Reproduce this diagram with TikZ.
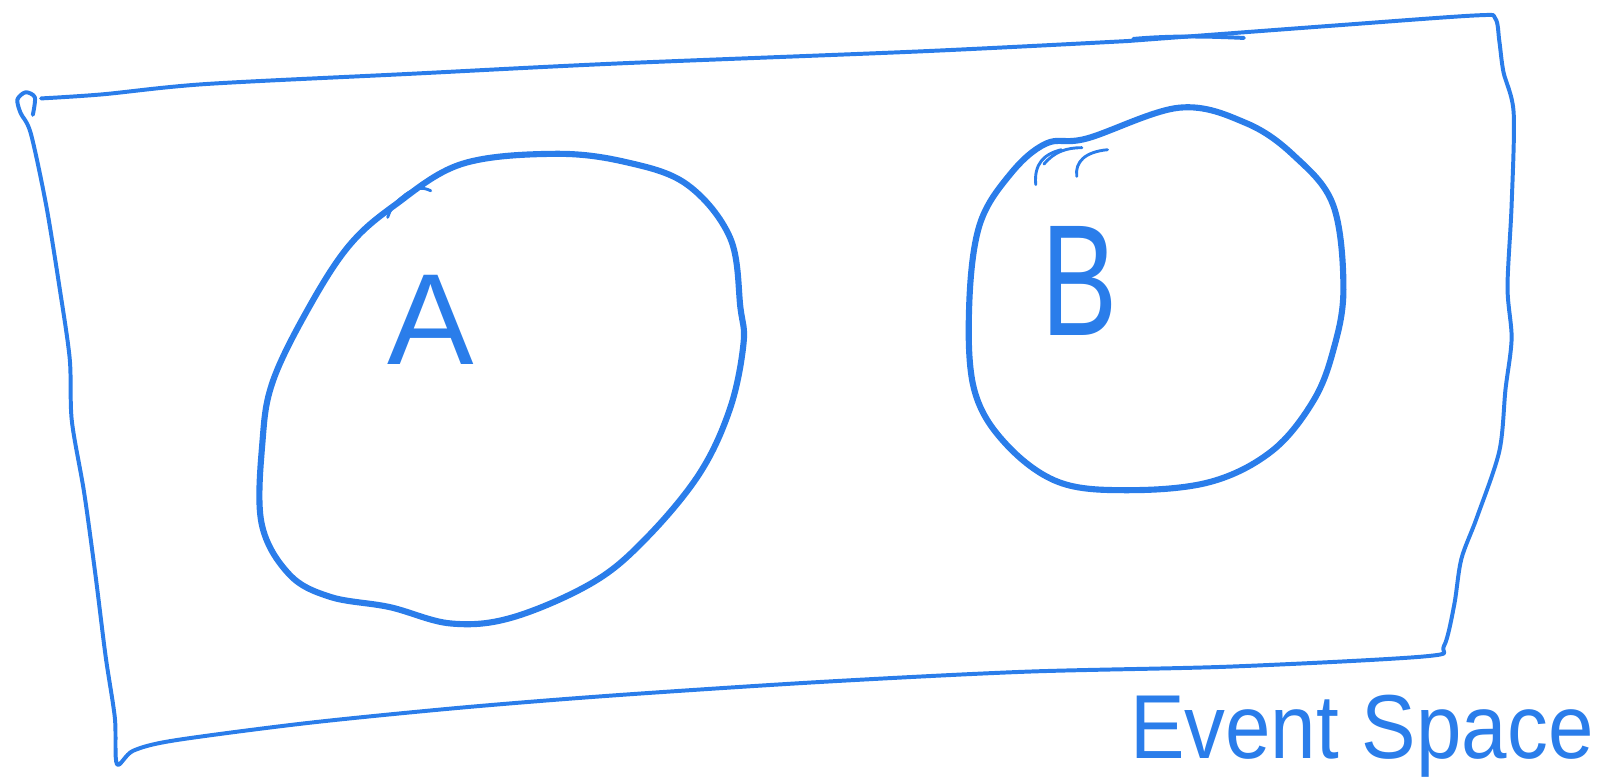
\documentclass[tikz,border=0pt]{standalone}
\usepackage{fontspec}
\setmainfont{Liberation Sans}
\definecolor{ink}{HTML}{2A7DEA}
\begin{document}
\begin{tikzpicture}[x=0.02cm,y=-0.02cm,
  frame/.style={draw=ink,line width=2.2pt,line cap=round,line join=round},
  blob/.style={draw=ink,line width=3.4pt,line cap=round,line join=round},
  tick/.style={draw=ink,line width=1.6pt,line cap=round},
  hand/.style={text=ink,inner sep=0pt}]
\useasboundingbox (0,0) rectangle (1568,759);
% event space frame
\draw[frame] plot[smooth,tension=0.5] coordinates{
 (32,112) (34,95) (25,90) (17,97) (20,110) (30,130) (45,200) (58,280) (68,350) (70,410)
 (82,480) (93,560) (103,640) (112,700) (114,745) (130,732) (170,722) (300,705) (450,690)
 (600,678) (800,665) (1000,655) (1200,650) (1390,640) (1408,630) (1418,590) (1425,545)
 (1440,505) (1462,440) (1468,380) (1474,330) (1470,280) (1474,200) (1476,110) (1466,70)
 (1462,40) (1458,18) (1440,15) (1300,25) (1100,40)};
\draw[frame] (1105,38) .. controls (1150,34) and (1190,36) .. (1213,37);
\draw[frame] plot[smooth,tension=0.5] coordinates{
 (1100,40) (900,50) (600,62) (400,72) (200,82) (100,92) (40,96)};
% blob A
\draw[blob] plot[smooth cycle,tension=0.6] coordinates{
 (340,240) (385,200) (450,160) (540,150) (610,158) (670,180) (712,232) (722,300)
 (725,335) (712,398) (682,462) (630,525) (578,568) (500,602) (440,608) (380,592)
 (322,582) (282,560) (255,510) (256,430) (266,372) (300,302)};
\draw[tick] (378,212) .. controls (382,198) and (395,188) .. (410,183);
\draw[tick] (395,190) .. controls (405,183) and (412,182) .. (420,186);
% blob B
\draw[blob] plot[smooth cycle,tension=0.6] coordinates{
 (1060,135) (1150,105) (1215,120) (1262,152) (1300,200) (1310,282) (1300,342)
 (1280,392) (1240,440) (1180,470) (1100,478) (1032,470) (980,432) (950,380)
 (945,300) (955,220) (985,170) (1020,140)};
\draw[tick] (1010,180) .. controls (1008,160) and (1018,150) .. (1035,146);
\draw[tick] (1050,172) .. controls (1048,158) and (1058,148) .. (1080,146);
\draw[tick] (1018,160) .. controls (1028,148) and (1040,144) .. (1055,144);
% labels
\node[hand,anchor=center,font=\fontsize{72}{72}\selectfont] (labA) at (420,312) {A};
\node[hand,anchor=center,font=\fontsize{88}{88}\selectfont] (labB) at (1053,274) {\scalebox{0.72}[1]{B}};
\node[hand,anchor=base,font=\fontsize{42}{42}\selectfont] (labE) at (1328,740) {\scalebox{1.08}[1.2]{Event Space}};
\end{tikzpicture}
\end{document}
